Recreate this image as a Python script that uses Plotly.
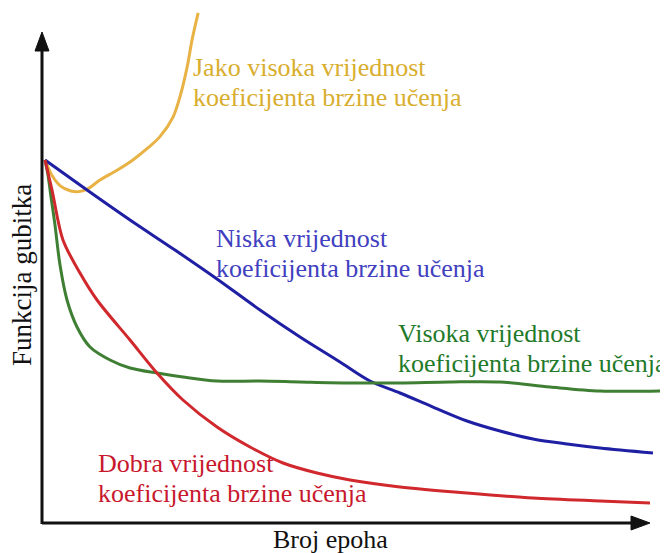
import plotly.graph_objects as go

# ---- data (epoch units on x, loss units on y) ----
x_jako = [0.5, 1.6, 3.0, 4.6, 5.9, 7.5, 9.5, 12.3, 14.9, 17.5, 19.3, 21.5, 22.8, 23.8, 24.6, 25.6]
y_jako = [74.1, 71.0, 68.8, 67.8, 67.6, 68.2, 70.0, 72.0, 74.1, 76.7, 78.8, 82.9, 87.8, 93.1, 98.6, 104.1]

x_niska = [0.49, 7.38, 14.43, 21.80, 28.69, 35.74, 42.30, 48.85, 53.77, 58.69, 64.10, 69.67, 75.08, 80.49, 86.07, 91.48, 100.16]
y_niska = [74.08, 67.96, 61.84, 55.71, 49.80, 43.47, 37.96, 32.86, 28.98, 26.53, 23.67, 20.82, 18.78, 17.14, 16.12, 15.31, 14.29]

x_visoka = [0.49, 0.98, 1.48, 2.13, 2.95, 4.10, 5.74, 7.87, 11.15, 14.43, 18.85, 23.11, 28.69, 35.74, 42.30, 50.49, 58.69, 66.89, 75.08, 83.28, 91.48, 101.8]
y_visoka = [74.08, 71.02, 66.53, 60.82, 52.65, 45.51, 40.0, 35.92, 33.27, 31.63, 30.61, 29.80, 28.98, 28.98, 28.78, 28.57, 28.57, 28.78, 28.78, 27.76, 26.94, 26.94]

x_dobra = [0.49, 1.64, 3.44, 6.23, 9.02, 14.43, 18.85, 23.11, 28.69, 34.10, 39.51, 45.08, 50.49, 58.69, 69.67, 80.49, 91.48, 99.67]
y_dobra = [74.08, 67.96, 57.76, 51.02, 45.51, 37.35, 30.61, 25.10, 19.59, 15.51, 12.24, 10.20, 8.78, 7.35, 6.12, 5.10, 4.49, 4.08]

series_names = ["Jako visoka", "Niska", "Visoka", "Dobra"]
line_colors = ["#E8B245", "#1F1FA3", "#3F7F33", "#D0282C"]
text_colors = ["#D9AE2E", "#4040C0", "#1F7A2A", "#C8182E"]
label_line1 = ["Jako visoka vrijednost", "Niska vrijednost", "Visoka vrijednost", "Dobra vrijednost"]
label_line2 = ["koeficijenta brzine učenja"] * 4

x_title = "Broj epoha"
y_title = "Funkcija gubitka"

# ---- layout helpers (page-pixel geometry; the page body has an 8px margin) ----
PAGE_W, PAGE_H = 668, 553
OFF = 8
X0PX, Y0PX = 42, 523       # origin in page pixels
SX, SY = 6.1, 4.9          # pixels per unit


def dx(px):
    return (px - X0PX) / SX


def dy(py):
    return (Y0PX - py) / SY


FONT = "Liberation Serif, Times New Roman, serif"

fig = go.Figure()
for xs, ys, col, name in zip([x_jako, x_niska, x_visoka, x_dobra],
                             [y_jako, y_niska, y_visoka, y_dobra],
                             line_colors, series_names):
    fig.add_trace(go.Scatter(x=xs, y=ys, mode="lines", name=name,
                             line=dict(color=col, width=3, shape="spline", smoothing=0.9),
                             hoverinfo="skip"))

# curve labels: (left px, baseline px of first line)
label_pos = [(191, 76), (214, 247), (396, 342), (96, 472)]
LS = 30
FS = 26
annotations = []
for (lx, lb), c, t1, t2 in zip(label_pos, text_colors, label_line1, label_line2):
    for i, t in enumerate([t1, t2]):
        annotations.append(dict(x=dx(lx), y=dy(lb + i * LS - 0.32 * FS), xref="x", yref="y",
                                text=t, showarrow=False, xanchor="left", yanchor="middle",
                                font=dict(family=FONT, size=FS, color=c)))

annotations.append(dict(x=dx(330), y=dy(539), xref="x", yref="y", text=x_title,
                        showarrow=False, xanchor="center", yanchor="middle",
                        font=dict(family=FONT, size=FS, color="#111111")))
annotations.append(dict(x=dx(22), y=dy(275), xref="x", yref="y", text=y_title, textangle=-90,
                        showarrow=False, xanchor="center", yanchor="middle",
                        font=dict(family=FONT, size=27, color="#111111")))

# axes with arrowheads
shapes = [
    dict(type="line", x0=0, y0=dy(Y0PX + 1), x1=0, y1=dy(48), xref="x", yref="y",
         line=dict(color="#111111", width=3)),
    dict(type="line", x0=0, y0=0, x1=dx(634), y1=0, xref="x", yref="y",
         line=dict(color="#111111", width=3)),
    dict(type="path", xref="x", yref="y",
         path=f"M {dx(35)} {dy(51)} L {dx(42)} {dy(32)} L {dx(49)} {dy(51)} Z",
         fillcolor="#111111", line=dict(color="#111111", width=1)),
    dict(type="path", xref="x", yref="y",
         path=f"M {dx(631)} {dy(516)} L {dx(650)} {dy(523)} L {dx(631)} {dy(530)} Z",
         fillcolor="#111111", line=dict(color="#111111", width=1)),
]

fig.update_layout(
    width=PAGE_W - OFF, height=PAGE_H - OFF,
    margin=dict(l=0, r=0, t=0, b=0),
    paper_bgcolor="white", plot_bgcolor="white",
    showlegend=False,
    xaxis=dict(range=[dx(OFF), dx(PAGE_W)], visible=False, fixedrange=True),
    yaxis=dict(range=[dy(PAGE_H), dy(OFF)], visible=False, fixedrange=True),
    annotations=annotations,
    shapes=shapes,
)

fig.write_html("out.html")
